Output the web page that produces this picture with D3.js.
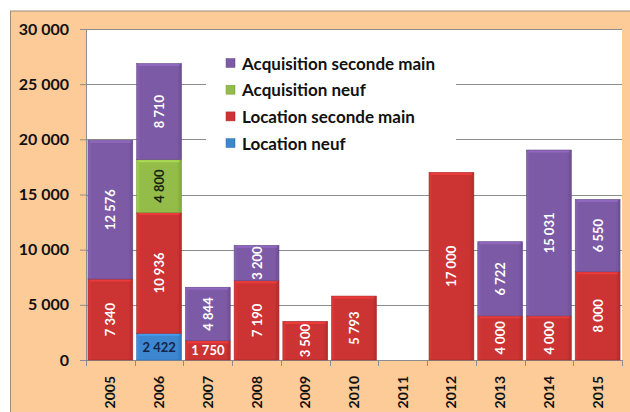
<!DOCTYPE html>
<html><head><meta charset="utf-8">
<script src="https://cdn.jsdelivr.net/npm/d3@7"></script>
<style>body{margin:0;background:#fff}svg{display:block}</style>
</head><body>
<script>
const years = ["2005","2006","2007","2008","2009","2010","2011","2012","2013","2014","2015"];
const seriesNames = ["Location neuf","Location seconde main","Acquisition neuf","Acquisition seconde main"];
const locationNeuf = [0,2422,0,0,0,0,0,0,0,0,0];
const locationSecondeMain = [7340,10936,1750,7190,3500,5793,0,17000,4000,4000,8000];
const acquisitionNeuf = [0,4800,0,0,0,0,0,0,0,0,0];
const acquisitionSecondeMain = [12576,8710,4844,3200,0,0,0,0,6722,15031,6550];
const yTicks = [0,5000,10000,15000,20000,25000,30000];

const colors = {"Location neuf":"#3d86d0","Location seconde main":"#cc3333","Acquisition neuf":"#93bd48","Acquisition seconde main":"#7d5aa6"};
const labelColors = {"Location neuf":"#16244a","Location seconde main":"#ffffff","Acquisition neuf":"#1c2410","Acquisition seconde main":"#ffffff"};

const W=630,H=412;
const svg=d3.select("body").append("svg").attr("width",W).attr("height",H);
const font="Lato, 'Open Sans', sans-serif";
const fmt=d=>d3.format(",")(d).replace(/,/g," ");

svg.append("rect").attr("x",10.5).attr("y",11).attr("width",W-10).attr("height",H-10).attr("fill","#fdcb98").attr("stroke","#a08c78").attr("stroke-width",1);
const pL=86,pR=622,pT=29,pB=360;
svg.append("rect").attr("x",pL).attr("y",pT).attr("width",pR-pL).attr("height",pB-pT).attr("fill","#fff");

const x=d3.scaleBand().domain(years).range([pL,pR]).paddingInner(0.08).paddingOuter(0.04);
const y=d3.scaleLinear().domain([0,30000]).range([pB,pT]);

const defs=svg.append("defs");
seriesNames.forEach((s,i)=>{
  const c=d3.color(colors[s]);
  const g=defs.append("linearGradient").attr("id","g"+i).attr("x1",0).attr("x2",1).attr("y1",0).attr("y2",0);
  g.append("stop").attr("offset","0").attr("stop-color",c.brighter(0.25));
  g.append("stop").attr("offset","0.08").attr("stop-color",c);
  g.append("stop").attr("offset","0.9").attr("stop-color",c);
  g.append("stop").attr("offset","1").attr("stop-color",c.darker(0.4));
});

svg.append("g").selectAll("line").data(yTicks).join("line")
  .attr("x1",pL).attr("x2",pR).attr("y1",d=>Math.round(y(d))+0.5).attr("y2",d=>Math.round(y(d))+0.5)
  .attr("stroke","#8c8c8c").attr("stroke-width",1);

svg.append("rect").attr("x",206).attr("y",38).attr("width",250).attr("height",128).attr("fill","#fff");

const yAxis=svg.append("g").attr("transform",`translate(${pL},0)`)
  .call(d3.axisLeft(y).tickValues(yTicks).tickSize(6).tickPadding(11).tickFormat(fmt));
yAxis.select(".domain").attr("stroke","#8c8c8c");
yAxis.selectAll(".tick line").attr("stroke","#8c8c8c");
yAxis.selectAll("text").attr("font-family",font).attr("font-weight","bold").attr("font-size",16).attr("fill","#111");

const xAxisG=svg.append("g").attr("transform",`translate(0,${pB})`);
xAxisG.append("line").attr("x1",pL).attr("x2",pR).attr("y1",0.5).attr("y2",0.5).attr("stroke","#8c8c8c");
const bounds=years.map(d=>x(d)-x.step()*x.paddingInner()/2).concat([pR]);
xAxisG.selectAll("line.t").data(bounds).join("line").attr("class","t")
  .attr("x1",d=>Math.round(d)+0.5).attr("x2",d=>Math.round(d)+0.5).attr("y1",0).attr("y2",6).attr("stroke","#8c8c8c");
xAxisG.selectAll("text").data(years).join("text")
  .attr("transform",d=>`translate(${x(d)+x.bandwidth()/2+5},16) rotate(-90)`)
  .attr("text-anchor","end").attr("font-family",font).attr("font-weight","bold").attr("font-size",14).attr("fill","#111")
  .text(d=>d);

const rows=years.map((yr,i)=>({year:yr,"Location neuf":locationNeuf[i],"Location seconde main":locationSecondeMain[i],"Acquisition neuf":acquisitionNeuf[i],"Acquisition seconde main":acquisitionSecondeMain[i]}));
const stack=d3.stack().keys(seriesNames)(rows);

stack.forEach((layer,i)=>{
  const g=svg.append("g");
  const segs=layer.filter(d=>d[1]-d[0]>0);
  g.selectAll("rect").data(segs).join("rect")
    .attr("x",d=>x(d.data.year)).attr("width",x.bandwidth())
    .attr("y",d=>y(d[1])).attr("height",d=>y(d[0])-y(d[1]))
    .attr("fill",`url(#g${i})`).attr("stroke",d3.color(colors[layer.key]).darker(0.6)).attr("stroke-width",0.6);
  g.selectAll("line.hl").data(segs).join("line").attr("class","hl")
    .attr("x1",d=>x(d.data.year)+2).attr("x2",d=>x(d.data.year)+x.bandwidth()-2)
    .attr("y1",d=>y(d[1])+1.5).attr("y2",d=>y(d[1])+1.5)
    .attr("stroke",d3.color(colors[layer.key]).brighter(0.5)).attr("stroke-width",2).attr("opacity",0.8);
  g.selectAll("text").data(segs).join("text")
    .attr("transform",d=>{
      const cx=x(d.data.year)+x.bandwidth()/2, cy=(y(d[0])+y(d[1]))/2;
      const h=y(d[0])-y(d[1]);
      return h<32?`translate(${cx},${cy})`:`translate(${cx},${cy}) rotate(-90)`;
    })
    .attr("text-anchor","middle").attr("dominant-baseline","central")
    .attr("font-family",font).attr("font-weight","bold").attr("font-size",13)
    .attr("fill",labelColors[layer.key])
    .text(d=>fmt(d[1]-d[0]));
});

const legendOrder=["Acquisition seconde main","Acquisition neuf","Location seconde main","Location neuf"];
const lg=svg.append("g");
legendOrder.forEach((s,i)=>{
  const cy=63+i*26.7;
  const idx=seriesNames.indexOf(s);
  lg.append("rect").attr("x",226).attr("y",cy-4.5).attr("width",9).attr("height",9).attr("fill",`url(#g${idx})`).attr("stroke",d3.color(colors[s]).darker(0.5)).attr("stroke-width",0.5);
  lg.append("text").attr("x",242).attr("y",cy).attr("dominant-baseline","central")
    .attr("font-family",font).attr("font-weight","bold").attr("font-size",17).attr("fill","#111").text(s);
});
</script>
</body></html>
